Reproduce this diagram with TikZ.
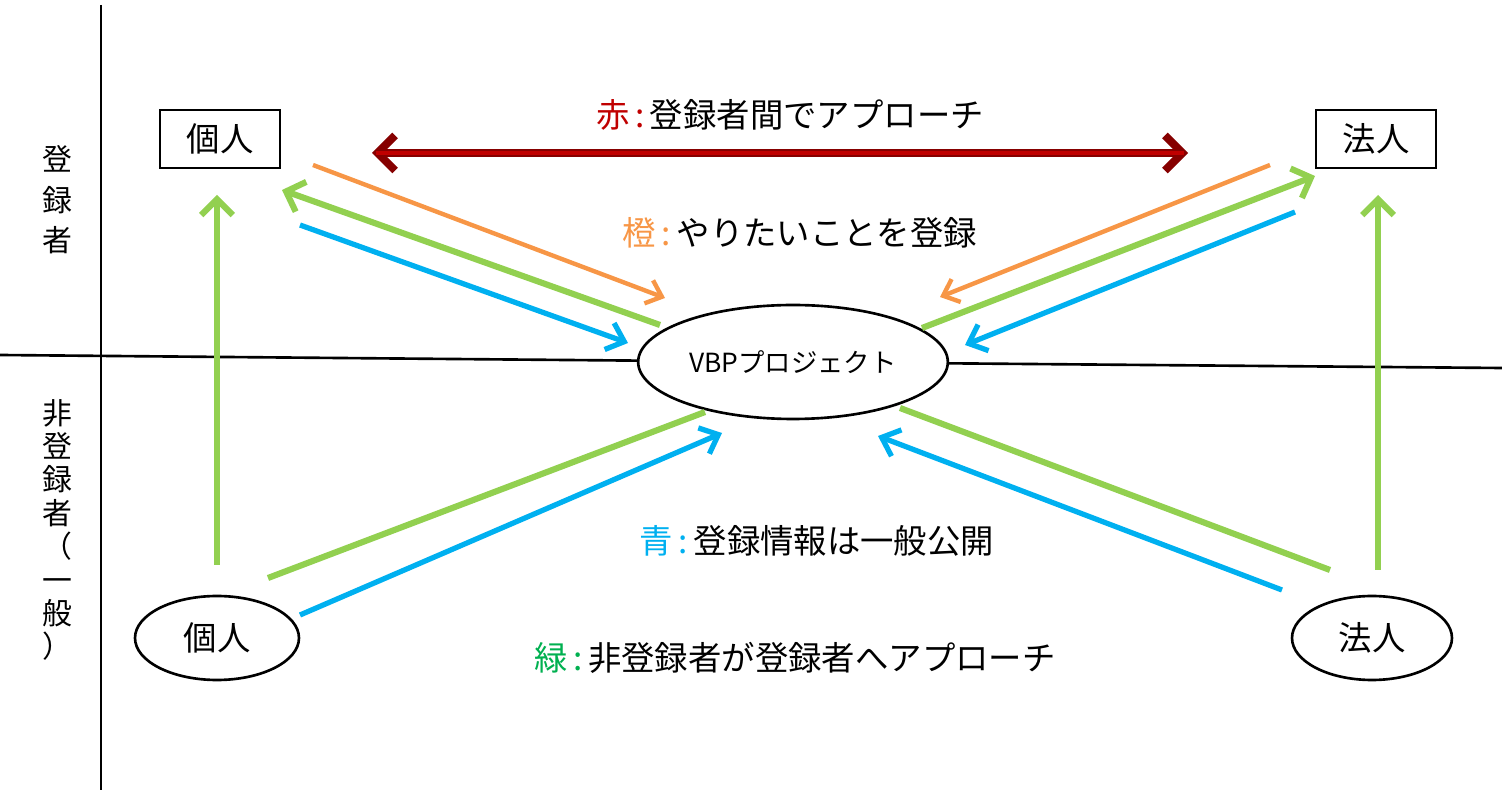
\documentclass[tikz,border=0pt]{standalone}
\usepackage{fontspec}
\newfontfamily\jp{Noto Sans CJK JP}
\usetikzlibrary{arrows.meta,shapes.geometric}
\definecolor{cred}{HTML}{C00000}
\definecolor{corange}{HTML}{F79646}
\definecolor{cgreen}{HTML}{92D050}
\definecolor{cgtext}{HTML}{00B050}
\definecolor{cblue}{HTML}{00B0F0}
\newcommand{\sepc}[1]{\textcolor{#1}{\,:\,}}
\begin{document}
\begin{tikzpicture}[x=0.02cm,y=-0.02cm,font=\jp\fontsize{19}{22}\selectfont,
  box/.style={draw,line width=1.5pt,minimum width=2.4cm,minimum height=1.16cm},
  ell/.style={draw,ellipse,line width=1.5pt},
  oarr/.style={corange,line width=2.5pt,-{Straight Barb[length=8pt,width=14pt]}},
  garr/.style={cgreen,line width=3.5pt,-{Straight Barb[length=9pt,width=18pt]}},
  gline/.style={cgreen,line width=3.5pt},
  barr/.style={cblue,line width=3pt,-{Straight Barb[length=9pt,width=16pt]}},
  lbl/.style={inner sep=0pt}]
\useasboundingbox (0,0) rectangle (1502,793);
\draw[line width=1.5pt] (101,5) -- (101,790);
\draw[line width=1.5pt] (0,355) -- (793,362) -- (1502,368);
\node[lbl,align=center,font=\jp\fontsize{17}{23}\selectfont] (reg) at (57,200) {登\\録\\者};
\node[lbl,align=center,font=\jp\fontsize{17}{19}\selectfont] (nreg) at (57,530) {非\\登\\録\\者\\（\\一\\般\\）};
\node[box] (ki) at (220,139) {個人};
\node[box] (ho) at (1376,139) {法人};
\node[ell,fill=white,minimum width=5.8cm,minimum height=2.28cm] (c) at (793,362) {\fontsize{15}{18}\selectfont VBPプロジェクト};
\node[ell,minimum width=3.28cm,minimum height=1.68cm] (bk) at (217,638) {個人};
\node[ell,minimum width=3.2cm,minimum height=1.68cm] (bh) at (1372,638) {法人};
\coordinate (r1) at (372,153); \coordinate (r2) at (1188,153);
\draw[cred!70!black,line width=4.5pt,{Straight Barb[length=10pt,width=20pt]}-{Straight Barb[length=10pt,width=20pt]}] (r1) -- (r2);
\draw[cred,line width=2pt,shorten <=2pt,shorten >=2pt] (r1) -- (r2);
\node (t1) at (790,115) {\textcolor{cred}{赤}\sepc{cred}登録者間でアプローチ};
\node (t2) at (800,233) {\textcolor{corange}{橙}\sepc{corange}やりたいことを登録};
\node (t3) at (817,541) {\textcolor{cblue}{青}\sepc{cblue}登録情報は一般公開};
\node (t4) at (795,658) {\textcolor{cgtext}{緑}\sepc{cgtext}非登録者が登録者へアプローチ};
\coordinate (o1) at (313,165); \coordinate (o2) at (665,298);
\coordinate (o3) at (1270,165); \coordinate (o4) at (940,297);
\draw[oarr] (o1) -- (o2); \draw[oarr] (o3) -- (o4);
\coordinate (g1) at (660,325); \coordinate (g2) at (282,190);
\coordinate (g3) at (922,328); \coordinate (g4) at (1315,176);
\draw[garr] (g1) -- (g2); \draw[garr] (g3) -- (g4);
\coordinate (gv1) at (217,565); \coordinate (gv2) at (217,195);
\coordinate (gv3) at (1378,570); \coordinate (gv4) at (1378,195);
\draw[garr] (gv1) -- (gv2); \draw[garr] (gv3) -- (gv4);
\coordinate (gl1) at (268,578); \coordinate (gl2) at (705,412);
\coordinate (gl3) at (1330,570); \coordinate (gl4) at (900,408);
\draw[gline] (gl1) -- (gl2); \draw[gline] (gl3) -- (gl4);
\coordinate (b1) at (300,225); \coordinate (b2) at (628,343);
\coordinate (b3) at (1295,212); \coordinate (b4) at (965,345);
\coordinate (b5) at (300,615); \coordinate (b6) at (722,433);
\coordinate (b7) at (1282,590); \coordinate (b8) at (878,436);
\draw[barr] (b1) -- (b2); \draw[barr] (b3) -- (b4);
\draw[barr] (b5) -- (b6); \draw[barr] (b7) -- (b8);
\end{tikzpicture}
\end{document}
